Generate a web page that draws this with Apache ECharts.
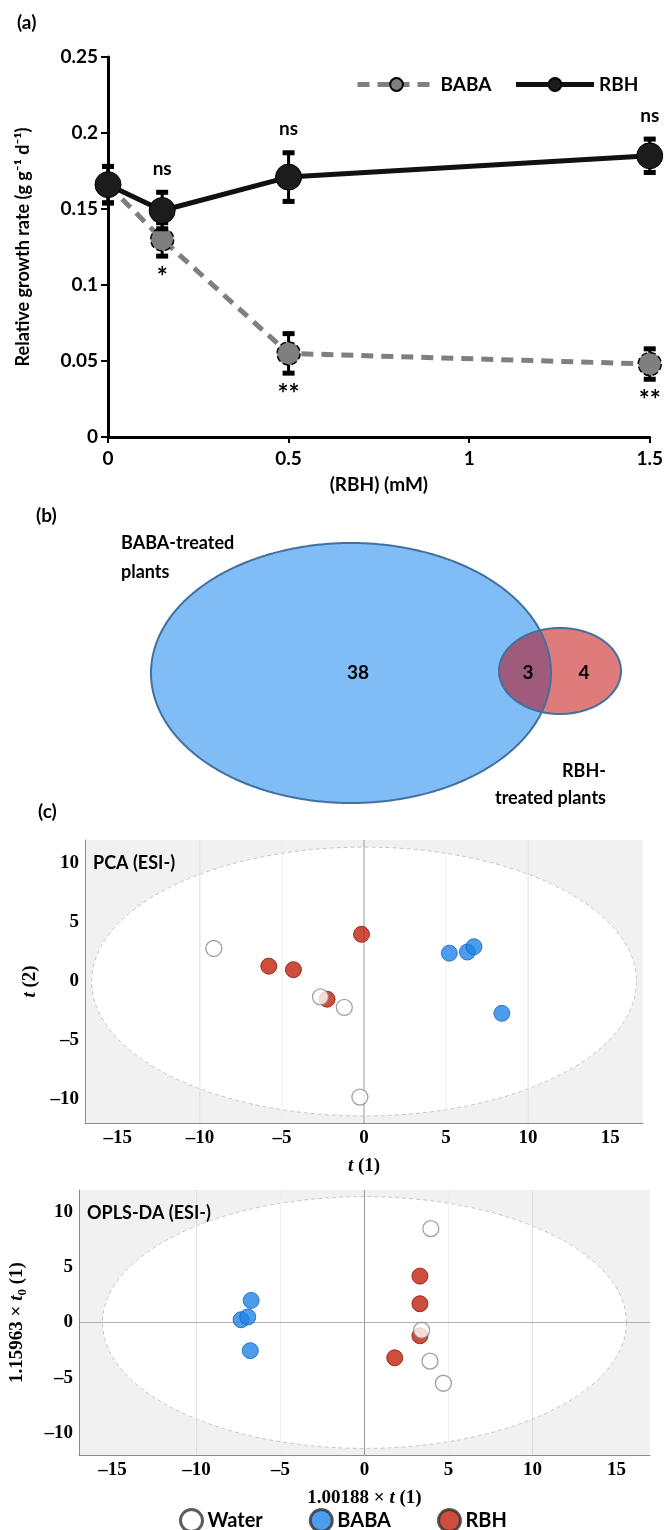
<!DOCTYPE html>
<html><head><meta charset="utf-8">
<script src="https://cdn.jsdelivr.net/npm/echarts@6/dist/echarts.min.js"></script>
<style>html,body{margin:0;padding:0;background:#fff}#c{width:666px;height:1530px}</style>
</head><body><div id="c"></div>
<script>
// ---------- Panel (a): relative growth rate ----------
const concentrations = [0, 0.15, 0.5, 1.5];
const babaRGR = [0.166, 0.130, 0.055, 0.048];
const babaErr = [0.012, 0.011, 0.013, 0.010];
const rbhRGR  = [0.166, 0.149, 0.171, 0.185];
const rbhErr  = [0.012, 0.012, 0.016, 0.011];
const rbhSig  = ['', 'ns', 'ns', 'ns'];
const babaSig = ['', '*', '**', '**'];

// ---------- Panel (b): Venn ----------
const vennSetLabels = ['BABA-treated\nplants', 'RBH-\ntreated plants'];
const vennCounts = [38, 3, 4]; // BABA only, shared, RBH only

// ---------- Panel (c): score plots ----------
const pcaWater = [[-9.15, 2.8], [-2.65, -1.3], [-1.2, -2.2], [-0.25, -9.8]];
const pcaBABA  = [[5.2, 2.4], [6.3, 2.5], [6.7, 2.95], [8.4, -2.7]];
const pcaRBH   = [[-5.8, 1.3], [-4.3, 1.0], [-0.15, 4.0], [-2.25, -1.5]];
const oplsWater = [[3.95, 8.5], [3.4, -0.7], [3.9, -3.5], [4.7, -5.5]];
const oplsBABA  = [[-6.75, 2.0], [-7.35, 0.25], [-6.95, 0.5], [-6.8, -2.55]];
const oplsRBH   = [[3.3, 4.2], [3.3, 1.7], [3.3, -1.2], [1.8, -3.2]];
const scoreXTicks = [-15, -10, -5, 0, 5, 10, 15];
const scoreYTicks = [-10, -5, 0, 5, 10];
const pcaT2 = [16.6, 11.4];
const oplsT2 = [15.6, 11.4];

const SANS = 'Lato, "Open Sans", sans-serif';
const SERIF = '"Liberation Serif", "DejaVu Serif", serif';

function ellipsePoints(cx, cy, rx, ry, n) {
  const p = [];
  for (let i = 0; i < n; i++) { const t = 2 * Math.PI * i / n; p.push([cx + rx * Math.cos(t), cy + ry * Math.sin(t)]); }
  return p;
}
function inEllipse(p, e) { const dx = (p[0] - e[0]) / e[2], dy = (p[1] - e[1]) / e[3]; return dx * dx + dy * dy <= 1; }

const chart = echarts.init(document.getElementById('c'), null, { renderer: 'canvas', width: 666, height: 1530 });

function errRender(params, api) {
  const x = api.value(0), lo = api.value(1), hi = api.value(2);
  const pLo = api.coord([x, lo]), pHi = api.coord([x, hi]);
  const w = 12, h = 5;
  return { type: 'group', children: [
    { type: 'line', shape: { x1: pLo[0], y1: pLo[1], x2: pHi[0], y2: pHi[1] }, style: { stroke: '#000', lineWidth: 3 } },
    { type: 'rect', shape: { x: pHi[0] - w / 2, y: pHi[1] - h / 2, width: w, height: h }, style: { fill: '#000' } },
    { type: 'rect', shape: { x: pLo[0] - w / 2, y: pLo[1] - h / 2, width: w, height: h }, style: { fill: '#000' } }
  ]};
}

// significance marks: value(0)=x, value(1)=bar end, value(2)=+1 above / -1 below
function sigRender(params, api) {
  const text = sigData[params.dataIndex].text;
  const above = api.value(2) > 0;
  const p = api.coord([api.value(0), api.value(1)]);
  const star = text.indexOf('*') >= 0;
  return { type: 'text', x: p[0], y: above ? p[1] - 14 : p[1] + 8,
    style: { text: text, fill: '#000', font: 'bold ' + (star ? 26 : 19) + 'px ' + SANS,
      textAlign: 'center', textVerticalAlign: above ? 'bottom' : 'top' } };
}
const sigData = concentrations.map((c, i) => ({ text: rbhSig[i], value: [c, rbhRGR[i] + rbhErr[i], 1] }))
  .concat(concentrations.map((c, i) => ({ text: babaSig[i], value: [c, babaRGR[i] - babaErr[i], -1] })))
  .filter(d => d.text);

function bgRender(t2, hzero) {
  return function (params, api) {
    const cs = params.coordSys;
    const c = api.coord([0, 0]);
    const rx = api.size([t2[0], 0])[0], ry = api.size([0, t2[1]])[1];
    const ch = [
      { type: 'rect', shape: { x: cs.x, y: cs.y, width: cs.width, height: cs.height }, style: { fill: '#f1f1f1' } },
      { type: 'polygon', shape: { points: ellipsePoints(c[0], c[1], rx, ry, 200) }, style: { fill: '#ffffff', stroke: '#c8c8c8', lineWidth: 1, lineDash: [4, 3] } }
    ];
    scoreXTicks.forEach(v => {
      if (v === 0 || Math.abs(v) === 15) return;
      const px = api.coord([v, 0])[0];
      ch.push({ type: 'line', shape: { x1: px, y1: cs.y, x2: px, y2: cs.y + cs.height }, style: { stroke: Math.abs(v) === 10 ? '#dedede' : '#eeeeee', lineWidth: 1 } });
    });
    ch.push({ type: 'line', shape: { x1: c[0], y1: cs.y, x2: c[0], y2: cs.y + cs.height }, style: { stroke: '#9a9a9a', lineWidth: 1 } });
    if (hzero) ch.push({ type: 'line', shape: { x1: cs.x, y1: c[1], x2: cs.x + cs.width, y2: c[1] }, style: { stroke: '#b0b0b0', lineWidth: 1 } });
    return { type: 'group', children: ch };
  };
}

const fmtMinus = v => String(v).replace('-', '\u2013');
function scoreX(gi, nameRich) {
  return { gridIndex: gi, type: 'value', min: -17, max: 17,
    axisLine: { show: true, onZero: false, lineStyle: { color: '#8a8a8a', width: 1 } },
    axisTick: { show: false }, splitLine: { show: false },
    axisLabel: { customValues: scoreXTicks, formatter: fmtMinus, fontFamily: SERIF, fontWeight: 'bold', fontSize: 19, color: '#000', margin: 6 },
    name: nameRich, nameLocation: 'middle', nameGap: 34,
    nameTextStyle: { fontFamily: SERIF, fontWeight: 'bold', fontSize: 19, color: '#000',
      rich: { i: { fontFamily: SERIF, fontStyle: 'italic', fontWeight: 'bold', fontSize: 19, color: '#000' } } } };
}
function scoreY(gi, nameRich, gap) {
  return { gridIndex: gi, type: 'value', min: -12, max: 12,
    axisLine: { show: true, onZero: false, lineStyle: { color: '#8a8a8a', width: 1 } },
    axisTick: { show: false }, splitLine: { show: false },
    axisLabel: { customValues: scoreYTicks, formatter: fmtMinus, fontFamily: SERIF, fontWeight: 'bold', fontSize: 19, color: '#000', margin: 6 },
    name: nameRich, nameLocation: 'middle', nameGap: gap, nameRotate: 90,
    nameTextStyle: { fontFamily: SERIF, fontWeight: 'bold', fontSize: 19, color: '#000',
      rich: { i: { fontFamily: SERIF, fontStyle: 'italic', fontWeight: 'bold', fontSize: 19, color: '#000' },
              s: { fontFamily: SERIF, fontWeight: 'bold', fontSize: 13, color: '#000', padding: [10, 0, 0, 0] } } } };
}

const groupStyle = {
  Water: { color: '#ffffff', borderColor: '#8a8a8a', borderWidth: 1.3 },
  BABA:  { color: '#1f84ea', borderColor: '#1a62b0', borderWidth: 1 },
  RBH:   { color: '#c2210b', borderColor: '#861406', borderWidth: 1 }
};
function scatter(name, data, gi) {
  return { name: name + ' ', type: 'scatter', xAxisIndex: gi, yAxisIndex: gi, data: data, symbolSize: 16, itemStyle: groupStyle[name], z: 3 };
}

// Venn geometry
const blueE = [351, 673, 200, 130];
const redE = [560, 671, 61, 43];
const bluePts = ellipsePoints(blueE[0], blueE[1], blueE[2], blueE[3], 600);
const redPts = ellipsePoints(redE[0], redE[1], redE[2], redE[3], 600);
let ov = redPts.filter(p => inEllipse(p, blueE)).concat(bluePts.filter(p => inEllipse(p, redE)));
const ocx = ov.reduce((s, p) => s + p[0], 0) / ov.length, ocy = ov.reduce((s, p) => s + p[1], 0) / ov.length;
ov.sort((a, b) => Math.atan2(a[1] - ocy, a[0] - ocx) - Math.atan2(b[1] - ocy, b[0] - ocx));

const labelFont = { fontFamily: SANS, fontWeight: 'bold', fill: '#000' };

const option = {
  animation: false,
  backgroundColor: '#fff',
  grid: [
    { left: 108, top: 57, width: 542, height: 380 },
    { left: 85, top: 840, width: 558, height: 283 },
    { left: 79, top: 1190, width: 571, height: 265 }
  ],
  xAxis: [
    { gridIndex: 0, type: 'value', min: 0, max: 1.5, interval: 0.5,
      axisLine: { onZero: false, lineStyle: { color: '#000', width: 3 } },
      axisTick: { show: true, length: 6, lineStyle: { color: '#000', width: 2 } },
      splitLine: { show: false },
      axisLabel: { fontFamily: SANS, fontWeight: 'bold', fontSize: 19, color: '#000', margin: 12 },
      name: '(RBH) (mM)', nameLocation: 'middle', nameGap: 38,
      nameTextStyle: { fontFamily: SANS, fontWeight: 'bold', fontSize: 19, color: '#000' } },
    scoreX(1, '{i|t} (1)'),
    scoreX(2, '1.00188 × {i|t} (1)')
  ],
  yAxis: [
    { gridIndex: 0, type: 'value', min: 0, max: 0.25, interval: 0.05,
      axisLine: { show: true, onZero: false, lineStyle: { color: '#000', width: 3 } },
      axisTick: { show: true, length: 7, lineStyle: { color: '#000', width: 2 } },
      splitLine: { show: false },
      axisLabel: { fontFamily: SANS, fontWeight: 'bold', fontSize: 19, color: '#000', margin: 10 },
      name: 'Relative growth rate (g g\u207B\u00B9 d\u207B\u00B9)', nameLocation: 'middle', nameGap: 76,
      nameTextStyle: { fontFamily: SANS, fontWeight: 'bold', fontSize: 18, color: '#000' } },
    scoreY(1, '{i|t} (2)', 44),
    scoreY(2, '1.15963 × {i|t}{s|0} (1)', 50)
  ],
  legend: [
    { data: ['BABA', 'RBH'], left: 350, top: 70, itemWidth: 78, itemHeight: 16, itemGap: 22,
      lineStyle: { width: 5 },
      textStyle: { fontFamily: SANS, fontWeight: 'bold', fontSize: 19, color: '#000' } },
    { data: [
        { name: 'Water ', icon: 'circle', itemStyle: { color: '#fff', borderColor: '#333', borderWidth: 3 } },
        { name: 'BABA ', icon: 'circle', itemStyle: { color: '#1f84ea', borderColor: '#333', borderWidth: 3 } },
        { name: 'RBH ', icon: 'circle', itemStyle: { color: '#c2210b', borderColor: '#333', borderWidth: 3 } } ],
      left: 174, top: 1503, itemWidth: 22, itemHeight: 22, itemGap: 46,
      formatter: n => n.trim(),
      textStyle: { fontFamily: SANS, fontWeight: 'bold', fontSize: 20, color: '#000' } }
  ],
  graphic: [
    { type: 'text', left: 17, top: 13, style: Object.assign({ text: '(a)', fontSize: 19 }, labelFont) },
    { type: 'text', left: 36, top: 506, style: Object.assign({ text: '(b)', fontSize: 19 }, labelFont) },
    { type: 'text', left: 38, top: 802, style: Object.assign({ text: '(c)', fontSize: 19 }, labelFont) },
    { type: 'polygon', shape: { points: bluePts }, style: { fill: '#80bdf7' }, z: 1 },
    { type: 'polygon', shape: { points: redPts }, style: { fill: '#e07b7b' }, z: 2 },
    { type: 'polygon', shape: { points: ov }, style: { fill: '#9e5b7c' }, z: 3 },
    { type: 'polygon', shape: { points: bluePts }, style: { fill: null, stroke: '#41719c', lineWidth: 2 }, z: 4 },
    { type: 'polygon', shape: { points: redPts }, style: { fill: null, stroke: '#41719c', lineWidth: 2 }, z: 5 },
    { type: 'text', x: 121, y: 529, z: 6, style: Object.assign({ text: vennSetLabels[0], fontSize: 18, lineHeight: 29, textVerticalAlign: 'top' }, labelFont) },
    { type: 'text', x: 606, y: 758, z: 6, style: Object.assign({ text: vennSetLabels[1], fontSize: 18, lineHeight: 27, textAlign: 'right', textVerticalAlign: 'top' }, labelFont) },
    { type: 'text', x: 358, y: 673, z: 6, style: Object.assign({ text: String(vennCounts[0]), fontSize: 19, textAlign: 'center', textVerticalAlign: 'middle' }, labelFont) },
    { type: 'text', x: 528, y: 673, z: 6, style: Object.assign({ text: String(vennCounts[1]), fontSize: 19, textAlign: 'center', textVerticalAlign: 'middle' }, labelFont) },
    { type: 'text', x: 584, y: 673, z: 6, style: Object.assign({ text: String(vennCounts[2]), fontSize: 19, textAlign: 'center', textVerticalAlign: 'middle' }, labelFont) },
    { type: 'text', x: 93, y: 863, z: 10, style: Object.assign({ text: 'PCA (ESI-)', fontSize: 18, textVerticalAlign: 'middle' }, labelFont) },
    { type: 'text', x: 87, y: 1213, z: 10, style: Object.assign({ text: 'OPLS-DA (ESI-)', fontSize: 18, textVerticalAlign: 'middle' }, labelFont) }
  ],
  series: [
    { type: 'custom', name: 'errBABA', xAxisIndex: 0, yAxisIndex: 0, renderItem: errRender, z: 3, silent: true,
      data: concentrations.map((c, i) => [c, babaRGR[i] - babaErr[i], babaRGR[i] + babaErr[i]]) },
    { name: 'BABA', type: 'line', xAxisIndex: 0, yAxisIndex: 0, z: 4,
      data: concentrations.map((c, i) => [c, babaRGR[i]]),
      symbol: 'circle', symbolSize: 23,
      lineStyle: { color: '#7f7f7f', width: 5, type: [12, 8] },
      itemStyle: { color: '#7f7f7f', borderColor: '#000', borderWidth: 1.5, borderType: 'dashed' } },
    { type: 'custom', name: 'errRBH', xAxisIndex: 0, yAxisIndex: 0, renderItem: errRender, z: 5, silent: true,
      data: concentrations.map((c, i) => [c, rbhRGR[i] - rbhErr[i], rbhRGR[i] + rbhErr[i]]) },
    { name: 'RBH', type: 'line', xAxisIndex: 0, yAxisIndex: 0, z: 6,
      data: concentrations.map((c, i) => [c, rbhRGR[i]]),
      symbol: 'circle', symbolSize: 26,
      lineStyle: { color: '#111', width: 5 },
      itemStyle: { color: '#1c1c1c', borderColor: '#000', borderWidth: 1 } },
    { type: 'custom', name: 'sig', xAxisIndex: 0, yAxisIndex: 0, renderItem: sigRender, z: 7, silent: true,
      data: sigData.map(d => d.value) },
    { type: 'custom', xAxisIndex: 1, yAxisIndex: 1, renderItem: bgRender(pcaT2, false), data: [[0, 0]], z: 0, silent: true },
    scatter('RBH', pcaRBH, 1), scatter('Water', pcaWater, 1), scatter('BABA', pcaBABA, 1),
    { type: 'custom', xAxisIndex: 2, yAxisIndex: 2, renderItem: bgRender(oplsT2, true), data: [[0, 0]], z: 0, silent: true },
    scatter('RBH', oplsRBH, 2), scatter('Water', oplsWater, 2), scatter('BABA', oplsBABA, 2)
  ]
};
chart.setOption(option);
</script>
</body></html>
